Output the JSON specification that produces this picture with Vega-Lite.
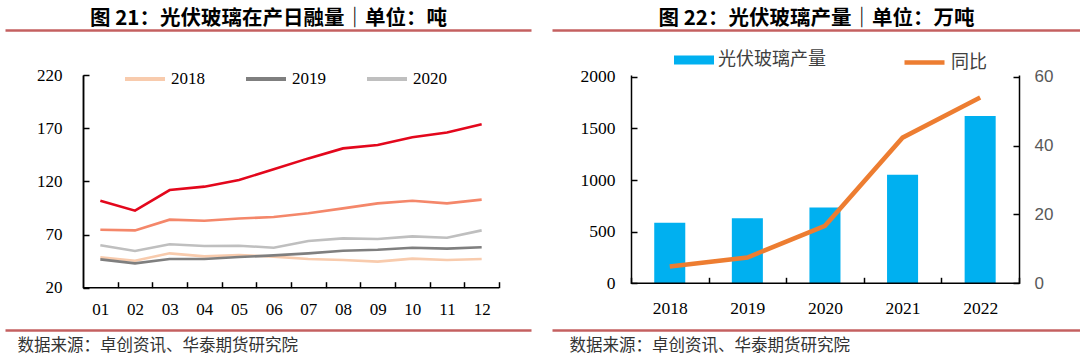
{
  "$schema": "https://vega.github.io/schema/vega-lite/v6.json",
  "padding": {"left": 5, "top": 8, "right": 0, "bottom": 0},
  "background": "white",
  "bounds": "flush",
  "spacing": 21,
  "config": {"view": {"stroke": null}},
  "datasets": {
    "daily": [
      {"m": 1, "year": "2018", "v": 48.5}, {"m": 2, "year": "2018", "v": 45.4}, {"m": 3, "year": "2018", "v": 52.3}, {"m": 4, "year": "2018", "v": 49.5}, {"m": 5, "year": "2018", "v": 50.7}, {"m": 6, "year": "2018", "v": 49.2}, {"m": 7, "year": "2018", "v": 47.0}, {"m": 8, "year": "2018", "v": 46.0}, {"m": 9, "year": "2018", "v": 44.5}, {"m": 10, "year": "2018", "v": 47.3}, {"m": 11, "year": "2018", "v": 46.0}, {"m": 12, "year": "2018", "v": 47.0},
      {"m": 1, "year": "2019", "v": 46.6}, {"m": 2, "year": "2019", "v": 42.9}, {"m": 3, "year": "2019", "v": 47.0}, {"m": 4, "year": "2019", "v": 47.0}, {"m": 5, "year": "2019", "v": 48.8}, {"m": 6, "year": "2019", "v": 50.4}, {"m": 7, "year": "2019", "v": 52.3}, {"m": 8, "year": "2019", "v": 54.8}, {"m": 9, "year": "2019", "v": 55.7}, {"m": 10, "year": "2019", "v": 57.6}, {"m": 11, "year": "2019", "v": 56.7}, {"m": 12, "year": "2019", "v": 58.0},
      {"m": 1, "year": "2020", "v": 60.0}, {"m": 2, "year": "2020", "v": 54.5}, {"m": 3, "year": "2020", "v": 60.8}, {"m": 4, "year": "2020", "v": 59.2}, {"m": 5, "year": "2020", "v": 59.5}, {"m": 6, "year": "2020", "v": 57.6}, {"m": 7, "year": "2020", "v": 63.9}, {"m": 8, "year": "2020", "v": 66.4}, {"m": 9, "year": "2020", "v": 65.8}, {"m": 10, "year": "2020", "v": 68.3}, {"m": 11, "year": "2020", "v": 67.0}, {"m": 12, "year": "2020", "v": 73.9},
      {"m": 1, "year": "2021", "v": 74.5}, {"m": 2, "year": "2021", "v": 73.9}, {"m": 3, "year": "2021", "v": 84.0}, {"m": 4, "year": "2021", "v": 83.0}, {"m": 5, "year": "2021", "v": 85.0}, {"m": 6, "year": "2021", "v": 86.5}, {"m": 7, "year": "2021", "v": 90.0}, {"m": 8, "year": "2021", "v": 94.6}, {"m": 9, "year": "2021", "v": 99.3}, {"m": 10, "year": "2021", "v": 101.8}, {"m": 11, "year": "2021", "v": 99.3}, {"m": 12, "year": "2021", "v": 102.8},
      {"m": 1, "year": "2022", "v": 101.8}, {"m": 2, "year": "2022", "v": 92.4}, {"m": 3, "year": "2022", "v": 111.8}, {"m": 4, "year": "2022", "v": 115.0}, {"m": 5, "year": "2022", "v": 121.3}, {"m": 6, "year": "2022", "v": 131.3}, {"m": 7, "year": "2022", "v": 141.6}, {"m": 8, "year": "2022", "v": 151.0}, {"m": 9, "year": "2022", "v": 154.2}, {"m": 10, "year": "2022", "v": 161.4}, {"m": 11, "year": "2022", "v": 166.0}, {"m": 12, "year": "2022", "v": 173.6}
    ],
    "prod": [
      {"year": "2018", "prod": 587, "yoy": 4.9},
      {"year": "2019", "prod": 629, "yoy": 7.5},
      {"year": "2020", "prod": 735, "yoy": 16.7},
      {"year": "2021", "prod": 1052, "yoy": 42.3},
      {"year": "2022", "prod": 1619, "yoy": 54.0}
    ]
  },
  "hconcat": [
    {
      "width": 526,
      "height": 212.7,
      "data": {"name": "daily"},
      "resolve": {"scale": {"y": "independent"}, "axis": {"x": "independent", "y": "independent"}},
      "layer": [
        {
          "transform": [{"filter": {"field": "year", "oneOf": ["2018", "2019", "2020"]}}],
          "mark": {"type": "line", "strokeWidth": 2.6},
          "encoding": {
            "x": {
              "field": "m", "type": "quantitative",
              "scale": {"domain": [-1.75, 13.423], "nice": false, "zero": false},
              "axis": {"orient": "bottom", "values": [1, 2, 3, 4, 5, 6, 7, 8, 9, 10, 11, 12], "format": "02d", "domain": false, "ticks": true, "tickOffset": 17.33, "labelOffset": -17.33, "tickSize": -6, "tickWidth": 1.5, "tickColor": "#000", "labelFont": "Liberation Serif", "labelFontSize": 17, "labelColor": "#000", "labelPadding": 20, "labelAngle": 0, "labelFlush": false, "labelOverlap": false, "title": null, "grid": false}
            },
            "y": {
              "field": "v", "type": "quantitative",
              "scale": {"domain": [20, 220], "nice": false},
              "axis": {"orient": "left", "offset": -78, "values": [20, 70, 120, 170, 220], "domain": true, "domainColor": "#000", "domainWidth": 1.5, "ticks": true, "tickSize": -6, "tickWidth": 1.5, "tickColor": "#000", "labelFont": "Liberation Serif", "labelFontSize": 17, "labelColor": "#000", "labelPadding": 27, "labelOverlap": false, "labelFlush": false, "grid": false, "title": null}
            },
            "color": {
              "field": "year", "type": "nominal",
              "scale": {"domain": ["2018", "2019", "2020", "2021", "2022"], "range": ["#f8cbad", "#7f7f7f", "#bfbfbf", "#f4876a", "#e3071c"]},
              "legend": {"orient": "none", "legendX": 118, "legendY": -18, "direction": "horizontal", "values": ["2018", "2019", "2020"], "title": null, "symbolType": "stroke", "symbolSize": 1600, "symbolStrokeWidth": 4, "labelFont": "Liberation Serif", "labelFontSize": 17, "labelColor": "#000", "labelOffset": 4, "columnPadding": 33, "padding": 0}
            }
          }
        },
        {
          "transform": [{"filter": {"field": "year", "oneOf": ["2021", "2022"]}}],
          "mark": {"type": "line", "strokeWidth": 2.6},
          "encoding": {
            "x": {
              "field": "m", "type": "quantitative",
              "scale": {"domain": [-1.75, 13.423], "nice": false, "zero": false},
              "axis": {"orient": "top", "offset": 45, "values": [0.5], "domain": true, "domainColor": "#c46060", "domainWidth": 2.5, "ticks": false, "labels": false, "grid": true, "gridColor": "#000", "gridWidth": 1.5, "gridOpacity": 1, "title": "图 21：光伏玻璃在产日融量｜单位：吨", "titleFont": "Noto Sans CJK SC", "titleFontSize": 20.5, "titleFontWeight": "bold", "titleColor": "#000", "titlePadding": 2}
            },
            "y": {"field": "v", "type": "quantitative", "scale": {"domain": [20, 220], "nice": false}, "axis": null},
            "color": {"field": "year", "type": "nominal"}
          }
        },
        {
          "data": {"values": [{}]},
          "mark": {"type": "rule", "strokeWidth": 1.5, "color": "#000"},
          "encoding": {
            "x": {
              "datum": 0.5, "type": "quantitative",
              "scale": {"domain": [-1.75, 13.423], "nice": false, "zero": false},
              "axis": {"orient": "bottom", "offset": 42.3, "domain": true, "domainColor": "#c46060", "domainWidth": 2.5, "ticks": false, "labels": false, "grid": false, "title": "数据来源：卓创资讯、华泰期货研究院", "titleX": 12, "titleAlign": "left", "titleFont": "Noto Sans CJK SC", "titleFontSize": 16.5, "titleFontWeight": "normal", "titleColor": "#333", "titlePadding": 7}
            },
            "x2": {"datum": 12.5},
            "y": {"datum": 0, "type": "quantitative", "scale": {"domain": [0, 1]}, "axis": null}
          }
        }
      ]
    },
    {
      "width": 528,
      "height": 208.3,
      "data": {"name": "prod"},
      "resolve": {"scale": {"y": "independent"}, "axis": {"x": "independent", "y": "independent"}},
      "layer": [
        {
          "mark": {"type": "bar", "width": {"band": 0.4}},
          "encoding": {
            "x": {
              "field": "year", "type": "ordinal",
              "scale": {"type": "band", "domain": ["2018", "2019", "2020", "2021", "2022"], "paddingInner": 0, "paddingOuter": 0.902, "align": 0.564},
              "axis": {"orient": "bottom", "domain": false, "ticks": true, "tickBand": "extent", "tickSize": -6, "tickWidth": 1.5, "tickColor": "#000", "labelFont": "Liberation Serif", "labelFontSize": 17.5, "labelColor": "#000", "labelPadding": 22, "labelAngle": 0, "title": null, "grid": false}
            },
            "y": {
              "field": "prod", "type": "quantitative",
              "scale": {"domain": [0, 2016.5], "nice": false},
              "axis": {"orient": "left", "offset": -79, "values": [0, 500, 1000, 1500, 2000], "format": "d", "domain": true, "domainColor": "#000", "domainWidth": 1.5, "ticks": true, "tickSize": -6, "tickWidth": 1.5, "tickColor": "#000", "labelFont": "Liberation Serif", "labelFontSize": 17.5, "labelColor": "#000", "labelPadding": 22, "labelOverlap": false, "labelFlush": false, "grid": false, "title": null}
            },
            "fill": {
              "datum": "光伏玻璃产量", "type": "nominal",
              "scale": {"range": ["#00b0f0"]},
              "legend": {"orient": "none", "legendX": 669, "legendY": -35, "title": null, "symbolType": "M-1,-0.22H1V0.22H-1Z", "symbolSize": 1600, "symbolStrokeWidth": 0, "labelFont": "Noto Sans CJK SC", "labelFontSize": 18, "labelColor": "#404040", "labelOffset": 4, "padding": 0}
            }
          }
        },
        {
          "mark": {"type": "line", "strokeWidth": 4.5},
          "encoding": {
            "x": {
              "field": "year", "type": "ordinal",
              "scale": {"type": "band", "domain": ["2018", "2019", "2020", "2021", "2022"], "paddingInner": 0, "paddingOuter": 0.902, "align": 0.564},
              "axis": {"orient": "top", "offset": 45, "domain": true, "domainColor": "#c46060", "domainWidth": 2.5, "ticks": false, "labels": false, "grid": false, "title": "图 22：光伏玻璃产量｜单位：万吨", "titleFont": "Noto Sans CJK SC", "titleFontSize": 20.5, "titleFontWeight": "bold", "titleColor": "#000", "titlePadding": 2}
            },
            "y": {
              "field": "yoy", "type": "quantitative",
              "scale": {"domain": [0, 60.5], "nice": false},
              "axis": {"orient": "right", "offset": -61, "values": [0, 20, 40, 60], "domain": true, "domainColor": "#000", "domainWidth": 1.5, "ticks": true, "tickSize": -6, "tickWidth": 1.5, "tickColor": "#000", "labelFont": "Liberation Sans", "labelFontSize": 17, "labelColor": "#595959", "labelPadding": 21, "labelOverlap": false, "labelFlush": false, "grid": false, "title": null}
            },
            "stroke": {
              "datum": "同比", "type": "nominal",
              "scale": {"range": ["#ed7d31"]},
              "legend": {"orient": "none", "legendX": 897, "legendY": -35, "title": null, "symbolType": "stroke", "symbolSize": 1600, "symbolStrokeWidth": 4.5, "labelFont": "Noto Sans CJK SC", "labelFontSize": 18, "labelColor": "#404040", "labelOffset": 4, "padding": 0}
            }
          }
        },
        {
          "data": {"values": [{}]},
          "mark": {"type": "rule", "strokeWidth": 1.5, "color": "#000"},
          "encoding": {
            "x": {
              "datum": "2018", "type": "ordinal", "bandPosition": 0,
              "scale": {"type": "band", "domain": ["2018", "2019", "2020", "2021", "2022"], "paddingInner": 0, "paddingOuter": 0.902, "align": 0.564},
              "axis": {"orient": "bottom", "offset": 46.7, "domain": true, "domainColor": "#c46060", "domainWidth": 2.5, "ticks": false, "labels": false, "grid": false, "title": "数据来源：卓创资讯、华泰期货研究院", "titleX": 17, "titleAlign": "left", "titleFont": "Noto Sans CJK SC", "titleFontSize": 16.5, "titleFontWeight": "normal", "titleColor": "#333", "titlePadding": 7}
            },
            "x2": {"datum": "2022", "bandPosition": 1},
            "y": {"datum": 0, "type": "quantitative", "scale": {"domain": [0, 1]}, "axis": null}
          }
        }
      ]
    }
  ]
}
